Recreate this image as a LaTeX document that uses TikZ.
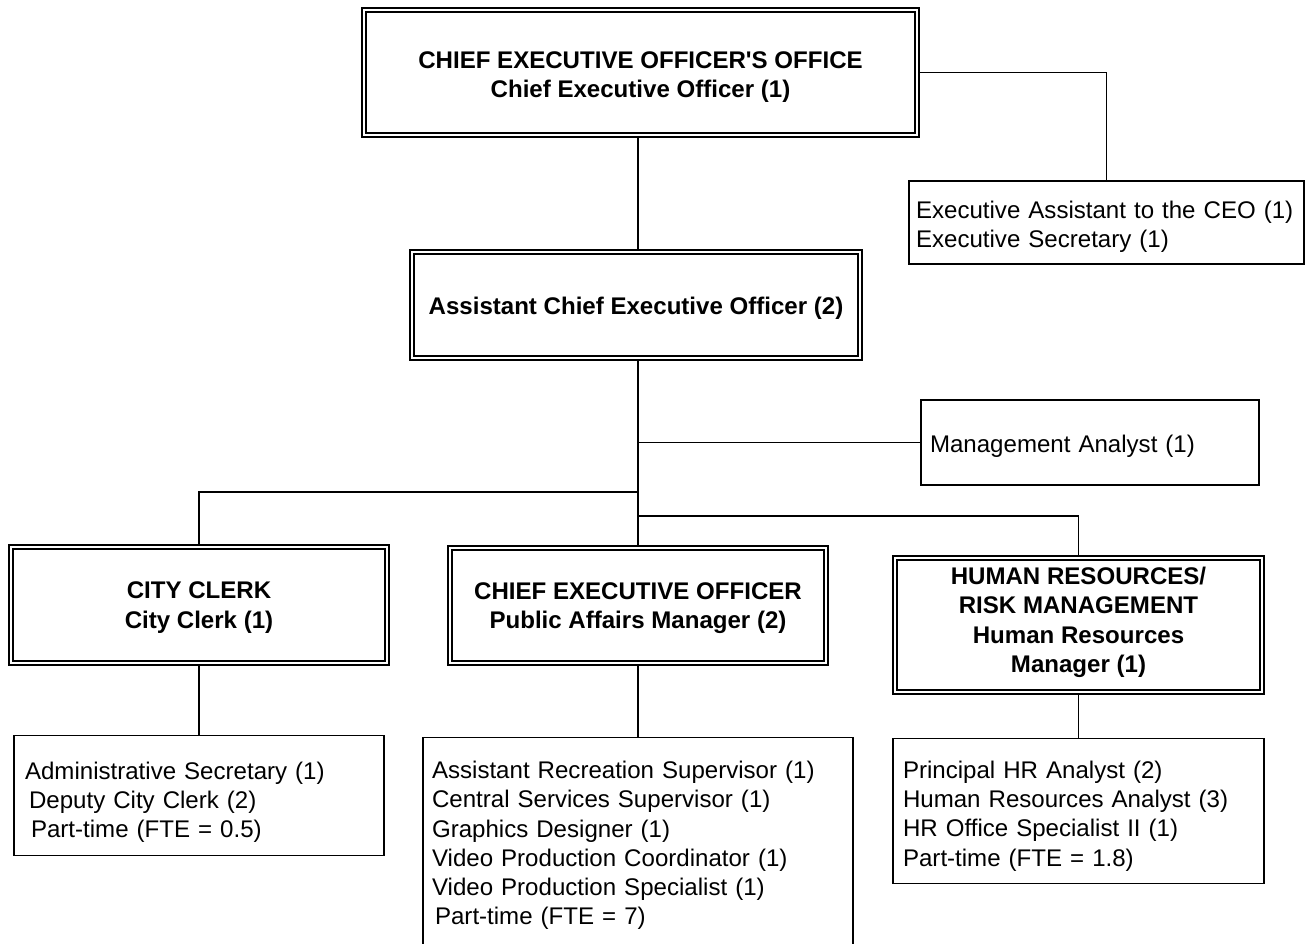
\documentclass[tikz,border=0pt]{standalone}
\usepackage{fontspec}
\setmainfont{Liberation Sans}
\usetikzlibrary{positioning}

\newcommand{\orgfont}{\fontsize{13.7}{16.6}\selectfont}
\newcommand{\topgap}[1]{\rule{0pt}{#1}}

\begin{document}
\begin{tikzpicture}[
    x=0.02cm, y=-0.02cm,
    every node/.style={font=\orgfont},
    headbox/.style={draw, double, line width=0.8pt, double distance=1.6pt, outer sep=1.6pt,
                    inner sep=0pt, align=center, font=\orgfont\bfseries},
    listbox/.style={draw, line width=0.8pt, inner ysep=0pt, align=left},
    drop/.style={execute at begin node={\rule{0pt}{#1}}},
    lift/.style={execute at end node={\rule[-#1]{0pt}{0pt}}},
    link/.style={line width=0.8pt}
]
\useasboundingbox (0,0) rectangle (1307,943);
\clip (0,0) rectangle (1307,943);

% head offices
\node[headbox, minimum width=11.06cm, minimum height=2.5cm] (ceo) at (640.5,72.5)
    {\topgap{14.5pt}CHIEF EXECUTIVE OFFICER\textquotesingle S OFFICE\\Chief Executive Officer (1)};
\node[headbox, drop=13.5pt, minimum width=8.96cm, minimum height=2.12cm] (asst) at (636,305)
    {Assistant Chief Executive Officer (2)};

% staff boxes on the right
\node[listbox, drop=15pt, inner xsep=0.14cm, text width=7.62cm, minimum height=1.66cm] (exec) at (1106.5,222.5)
    {Executive Assistant to the CEO (1)\\Executive Secretary (1)};
\node[listbox, drop=14.5pt, inner xsep=0.18cm, text width=6.40cm, minimum height=1.7cm] (mgmt) at (1090,442.5)
    {Management Analyst (1)};

% divisions
\node[headbox, minimum width=7.52cm, minimum height=2.32cm] (clerk) at (199,605)
    {\topgap{12.5pt}CITY CLERK\\City Clerk (1)};
\node[headbox, minimum width=7.52cm, minimum height=2.30cm] (pubaff) at (638,605.5)
    {\topgap{13pt}CHIEF EXECUTIVE OFFICER\\Public Affairs Manager (2)};
\node[headbox, lift=6pt, minimum width=7.34cm, minimum height=2.68cm] (hr) at (1078.5,625)
    {HUMAN RESOURCES/\\RISK MANAGEMENT\\Human Resources\\Manager (1)};

% staff lists
\node[listbox, drop=18pt, below=1.38cm of clerk, inner xsep=0.22cm, text width=6.96cm, minimum height=2.4cm] (clerklist)
    {Administrative Secretary (1)\\\hspace*{0.08cm}Deputy City Clerk (2)\\\hspace*{0.12cm}Part-time (FTE = 0.5)};
\node[listbox, below=1.42cm of pubaff, inner xsep=0.18cm, text width=8.24cm, minimum height=4.32cm] (palist)
    {Assistant Recreation Supervisor (1)\\Central Services Supervisor (1)\\Graphics Designer (1)\\
     Video Production Coordinator (1)\\Video Production Specialist (1)\\\hspace*{0.06cm}Part-time (FTE = 7)};
\node[listbox, drop=15.7pt, below=0.86cm of hr, inner xsep=0.2cm, text width=7.02cm, minimum height=2.9cm] (hrlist)
    {Principal HR Analyst (2)\\Human Resources Analyst (3)\\HR Office Specialist II (1)\\Part-time (FTE = 1.8)};

% connectors
\coordinate (trunk) at (638,0);
\coordinate (split1) at (638,492);
\coordinate (split2) at (638,516);
\draw[link] (ceo.east) -| (exec.north);
\draw[link] (ceo.south -| trunk) -- (asst.north -| trunk);
\draw[link] (asst.south -| trunk) -- (pubaff.north);
\draw[link] (mgmt.west -| trunk) -- (mgmt.west);
\draw[link] (clerk.north) |- (split1);
\draw[link] (hr.north) |- (split2);
\draw[link] (clerk.south) -- (clerklist.north);
\draw[link] (pubaff.south) -- (palist.north);
\draw[link] (hr.south) -- (hrlist.north);

\end{tikzpicture}
\end{document}
